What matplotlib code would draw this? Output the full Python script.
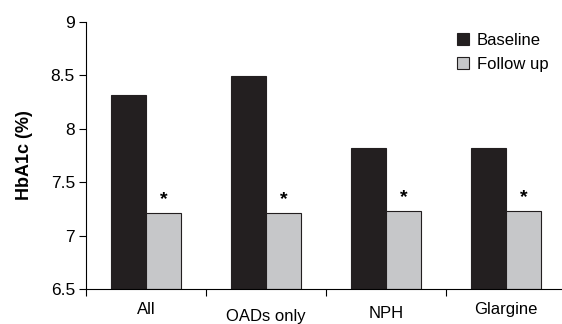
import numpy as np
import matplotlib.pyplot as plt

plt.rcParams['font.family'] = ['Liberation Sans', 'DejaVu Sans']

categories = ['All', 'OADs only', 'NPH', 'Glargine']
baseline = [8.32, 8.49, 7.82, 7.82]
follow_up = [7.21, 7.21, 7.23, 7.23]
label_drop = [0, 5, 3, 0]   # pixels, labels sit at uneven heights in the original

fig = plt.figure(figsize=(5.62, 3.24), dpi=100)
ax = fig.add_axes([86/562, 1 - 289/324, 480/562, 267/324])

x = np.arange(len(categories))
w = 0.295
ax.bar(x - w/2, np.array(baseline) - 6.5, w, bottom=6.5, color='#231f20',
       edgecolor='#231f20', linewidth=0.8, label='Baseline')
ax.bar(x + w/2, np.array(follow_up) - 6.5, w, bottom=6.5, color='#c6c7c9',
       edgecolor='#231f20', linewidth=0.8, label='Follow up')

for xi, v in zip(x, follow_up):
    ax.text(xi + w/2, v + 0.05, '*', ha='center', va='bottom', fontsize=14,
            fontweight='bold')

ax.set_xlim(-0.5, 3.5)
ax.set_ylim(6.5, 9)
ax.set_yticks([6.5, 7, 7.5, 8, 8.5, 9])
ax.set_yticklabels(['6.5', '7', '7.5', '8', '8.5', '9'], fontsize=12.5)
ax.set_xticks([-0.5, 0.5, 1.5, 2.5])
ax.set_xticklabels([])
ax.tick_params(axis='y', length=5, width=0.8, pad=3)
ax.tick_params(axis='x', length=5, width=0.8)
for s in ['top', 'right']:
    ax.spines[s].set_visible(False)
for s in ['left', 'bottom']:
    ax.spines[s].set_linewidth(0.8)

for xi, name, d in zip(x, categories, label_drop):
    ax.annotate(name, (xi, 6.5), xytext=(0, -15 - d), textcoords='offset points',
                ha='center', va='center', fontsize=12)

ax.set_ylabel('HbA1c (%)', fontsize=13, fontweight='bold', labelpad=13)

ax.legend(loc='upper left', bbox_to_anchor=(356/480, 1.015), frameon=False,
          fontsize=12, handlelength=0.7, handleheight=0.7, handletextpad=0.5,
          labelspacing=0.55)

fig.savefig('out.png', dpi=100)
